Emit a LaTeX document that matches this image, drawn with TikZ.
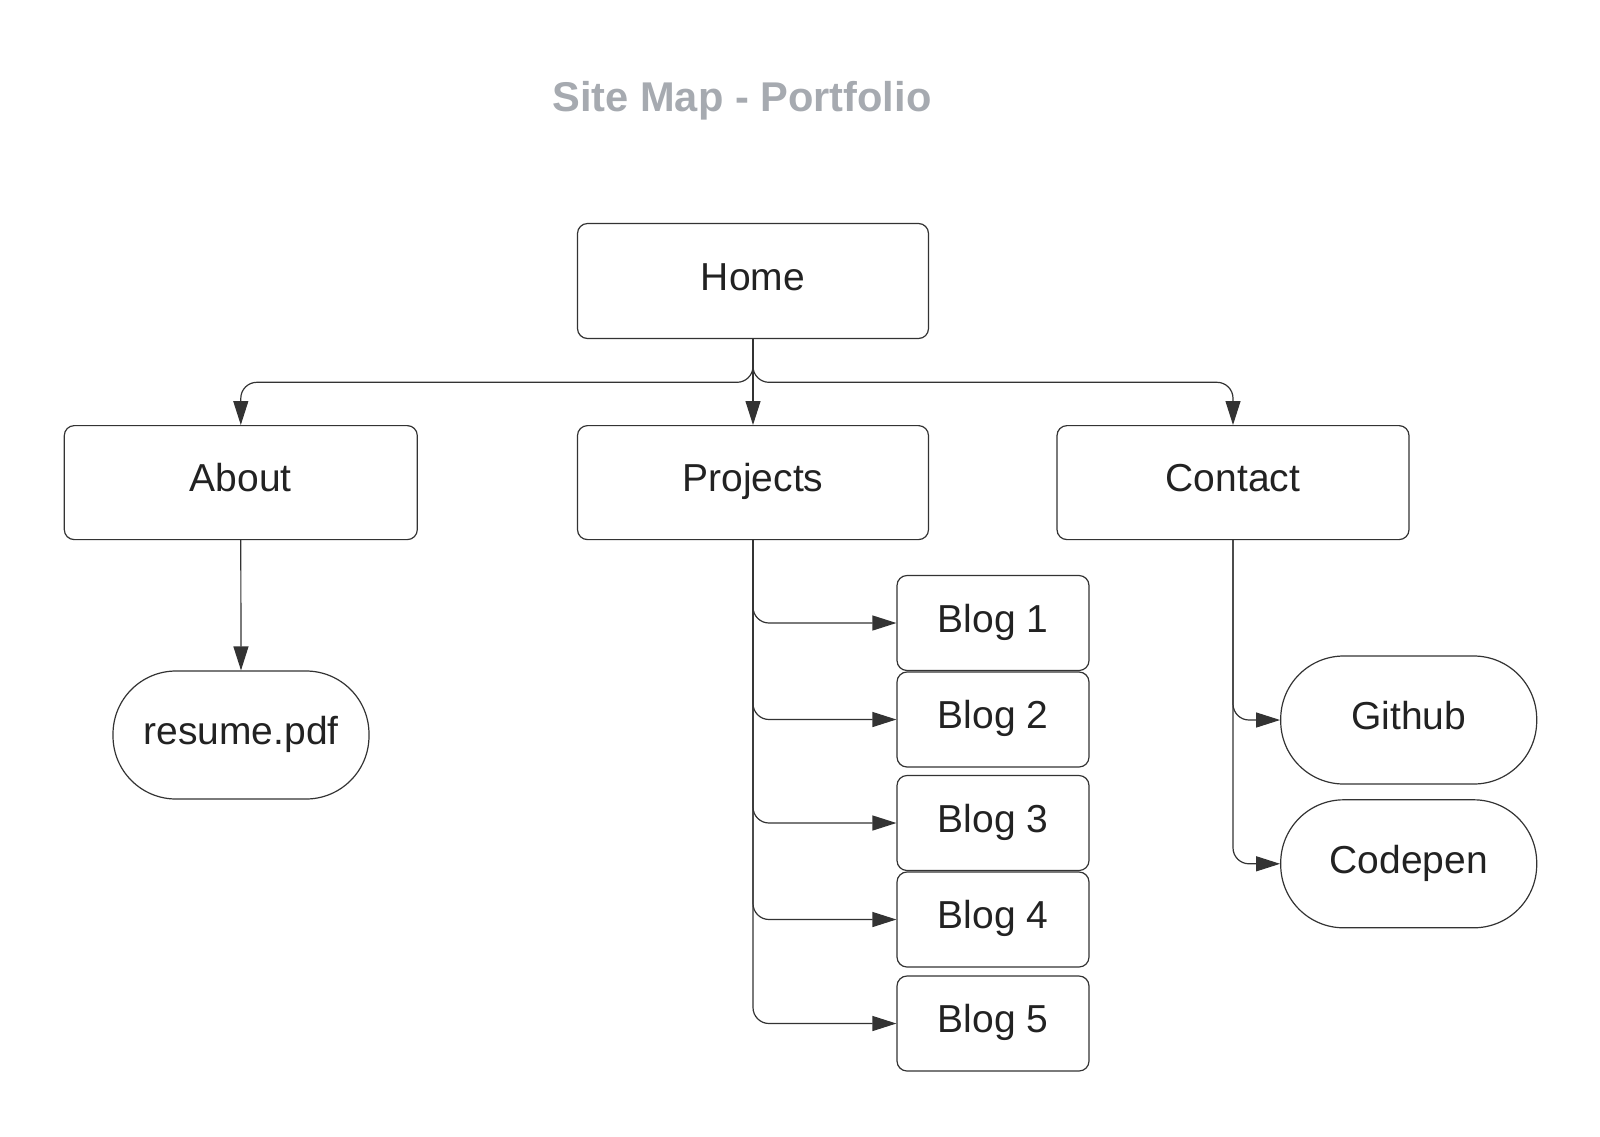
\documentclass[tikz,border=0pt]{standalone}
\usepackage{fontspec}
\setmainfont{Liberation Sans}
\usetikzlibrary{arrows.meta}
\definecolor{lineC}{HTML}{333333}
\definecolor{textC}{HTML}{222222}
\definecolor{titleC}{HTML}{A6AAB0}
\tikzset{
  box/.style={draw=lineC, line width=1.2pt, rounded corners=10pt, inner sep=0pt,
    text=textC, font=\fontsize{39}{46}\selectfont, text height=28pt, text depth=9.5pt},
  pill/.style={box, rounded corners=63pt, minimum width=256pt, minimum height=128pt},
  blogbox/.style={box, minimum width=192pt, minimum height=95pt},
  conn/.style={draw=lineC, line width=1.2pt, rounded corners=16pt,
    -{Triangle[length=24pt,width=15pt]}},
}
\begin{document}
\begin{tikzpicture}[x=1pt,y=-1pt]
\useasboundingbox (0,0) rectangle (1600,1136);
\node[text=titleC, font=\fontsize{41.6}{48}\selectfont\bfseries, text height=30pt, text depth=9pt, inner sep=0pt] (title) at (742,101) {Site Map - Portfolio};
\node[box, minimum width=351pt, minimum height=115pt] (home) at (753,281) {Home};
\node[box, minimum width=353pt, minimum height=114pt] (about) at (240.8,482.6) {About};
\node[box, minimum width=351pt, minimum height=114pt] (projects) at (753,482.6) {Projects};
\node[box, minimum width=352pt, minimum height=114pt] (contact) at (1233,482.6) {Contact};
\node[pill] (resume) at (241,735) {resume.pdf};
\node[blogbox] (b1) at (993,623) {Blog 1};
\node[blogbox] (b2) at (993,719.5) {Blog 2};
\node[blogbox] (b3) at (993,823) {Blog 3};
\node[blogbox] (b4) at (993,919.5) {Blog 4};
\node[blogbox] (b5) at (993,1023.5) {Blog 5};
\node[pill] (github) at (1408.7,720) {Github};
\node[pill] (codepen) at (1408.7,863.8) {Codepen};
% Home connectors
\draw[conn] (home.south) |- (500,382.3) -| (about.north);
\draw[conn] (home.south) -- (projects.north);
\draw[conn] (home.south) |- (1000,382.3) -| (contact.north);
% About
\draw[conn] (about.south) -- (resume.north);
% Projects to blogs
\foreach \b in {b1,b2,b3,b4,b5}{
  \draw[conn] (projects.south) |- (\b.west);
}
% Contact
\draw[conn] (contact.south) |- (github.west);
\draw[conn] (contact.south) |- (codepen.west);
\end{tikzpicture}
\end{document}
